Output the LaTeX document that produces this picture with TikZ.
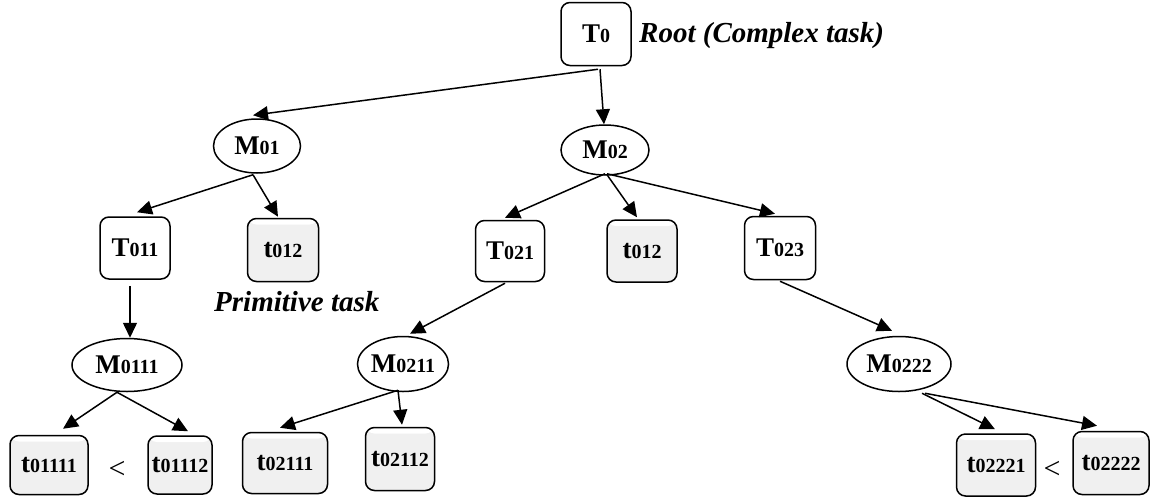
\documentclass[tikz,border=0pt]{standalone}
\usepackage{fontspec}
\setmainfont{Liberation Serif}
\usetikzlibrary{arrows.meta,calc,shapes.geometric}
\newcommand{\tlab}[2]{{\fontsize{27}{29}\selectfont\bfseries #1}{\fontsize{20}{22}\selectfont\bfseries #2}}
\begin{document}
\begin{tikzpicture}[x=1pt,y=-1pt,
  box/.style={draw, line width=1.5pt, rounded corners=9pt, inner sep=0pt, align=center},
  primbox/.style={box, fill=black!6, path picture={\fill[white] (path picture bounding box.north west) rectangle ([yshift=-6pt]path picture bounding box.north east);}},
  meth/.style={draw, ellipse, line width=1.5pt, inner sep=0pt},
  conn/.style={line width=1.5pt, -{Triangle[length=15pt,width=14pt]}},
  note/.style={font=\fontsize{29}{31}\selectfont\bfseries\itshape, inner sep=0pt},
  lt/.style={font=\fontsize{30}{32}\selectfont, inner sep=0pt}
]
\useasboundingbox (0,0) rectangle (1150,501);

% task boxes
\node[box, minimum width=70pt, minimum height=63pt] (T0) at (596,34) {\tlab{T}{0}};
\node[box, minimum width=70pt, minimum height=62pt] (T011) at (135,248) {\tlab{T}{011}};
\node[primbox, minimum width=71pt, minimum height=63pt] (t012a) at (283,250) {\tlab{t}{012}};
\node[box, minimum width=69pt, minimum height=61pt] (T021) at (510,251) {\tlab{T}{021}};
\node[primbox, minimum width=70pt, minimum height=62pt] (t012b) at (642,251) {\tlab{t}{012}};
\node[box, minimum width=71pt, minimum height=63pt] (T023) at (780,248) {\tlab{T}{023}};
\node[primbox, minimum width=78pt, minimum height=59pt] (t01111) at (49,465) {\tlab{t}{01111}};
\node[primbox, minimum width=64pt, minimum height=58pt] (t01112) at (180,465) {\tlab{t}{01112}};
\node[primbox, minimum width=85pt, minimum height=61pt] (t02111) at (285,463) {\tlab{t}{02111}};
\node[primbox, minimum width=69pt, minimum height=63pt] (t02112) at (400,459) {\tlab{t}{02112}};
\node[primbox, minimum width=79pt, minimum height=62pt] (t02221) at (996,465) {\tlab{t}{02221}};
\node[primbox, minimum width=76pt, minimum height=63pt] (t02222) at (1111,463) {\tlab{t}{02222}};

% methods
\node[meth, minimum width=87pt, minimum height=54pt] (M01) at (257,146) {\tlab{M}{01}};
\node[meth, minimum width=88pt, minimum height=50pt] (M02) at (605,150) {\tlab{M}{02}};
\node[meth, minimum width=110pt, minimum height=53pt] (M0111) at (127,365) {\tlab{M}{0111}};
\node[meth, minimum width=90pt, minimum height=55pt] (M0211) at (403,364) {\tlab{M}{0211}};
\node[meth, minimum width=104pt, minimum height=55pt] (M0222) at (899,364) {\tlab{M}{0222}};

% labels
\node[note, anchor=base west] (root) at (639,42) {Root (Complex task)};
\node[note, anchor=base west] (prim) at (214,311) {Primitive task};
\node[lt] (lt1) at (117,470) {<};
\node[lt] (lt2) at (1052,470) {<};

% connectors
\draw[conn] ($(T0.south)+(2,3)$) -- ($(M01.north)+(-4,-3)$);
\draw[conn] ($(T0.south)+(4,3)$) -- ($(M02.north)+(-1,0)$);
\draw[conn] ($(M01.south)+(-4,1)$) -- ($(T011.north)+(2,-4)$);
\draw[conn] ($(M01.south)+(-4,1)$) -- ($(t012a.north)+(-5,-1)$);
\draw[conn] ($(M02.south)+(0,-2)$) -- ($(T021.north)+(-5,-2)$);
\draw[conn] ($(M02.south)+(2,-1)$) -- ($(t012b.north)+(-5,-2)$);
\draw[conn] ($(M02.south)+(2,-2)$) -- ($(T023.north)+(-5,-2)$);
\draw[conn] ($(T011.south)+(-5,6)$) -- ($(M0111.north)+(3,0)$);
\draw[conn] ($(T021.south)+(-5,1)$) -- ($(M0211.north)+(7,-2)$);
\draw[conn] ($(T023.south)+(0,1)$) -- ($(M0222.north)+(-7,-5)$);
\draw[conn] ($(M0111.south)+(-10,0)$) -- ($(t01111.north)+(14,-6)$);
\draw[conn] ($(M0111.south)+(-10,0)$) -- ($(t01112.north)+(8,-4)$);
\draw[conn] ($(M0211.south)+(-5,-2)$) -- ($(t02111.north)+(-5,-4)$);
\draw[conn] ($(M0211.south)+(-5,-2)$) -- ($(t02112.north)+(2,-2)$);
\draw[conn] ($(M0222.south)+(23,1)$) -- ($(t02221.north)+(-1,-4)$);
\draw[conn] ($(M0222.south)+(26,1)$) -- ($(t02222.north)+(-14,-5)$);
\end{tikzpicture}
\end{document}
